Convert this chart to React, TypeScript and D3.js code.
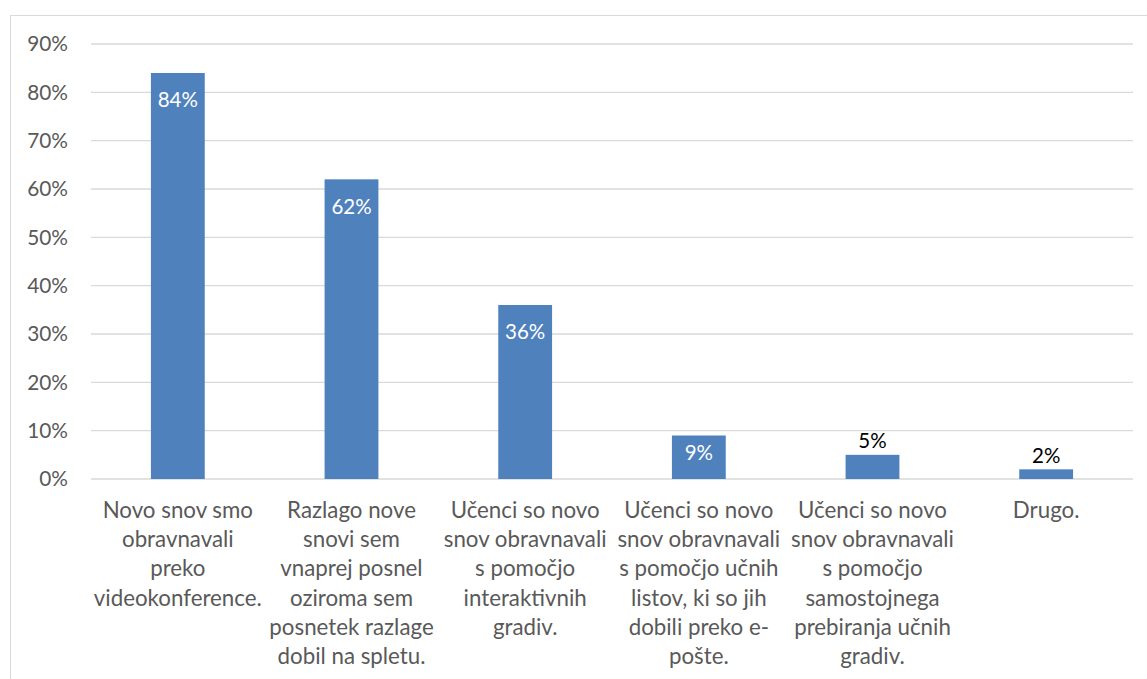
import React from "react";
import * as d3 from "d3";

// Survey responses: how new material was taught
const categories: string[][] = [
  ["Novo snov smo", "obravnavali", "preko", "videokonference."],
  ["Razlago nove", "snovi sem", "vnaprej posnel", "oziroma sem", "posnetek razlage", "dobil na spletu."],
  ["Učenci so novo", "snov obravnavali", "s pomočjo", "interaktivnih", "gradiv."],
  ["Učenci so novo", "snov obravnavali", "s pomočjo učnih", "listov, ki so jih", "dobili preko e-", "pošte."],
  ["Učenci so novo", "snov obravnavali", "s pomočjo", "samostojnega", "prebiranja učnih", "gradiv."],
  ["Drugo."],
];
const values: number[] = [0.84, 0.62, 0.36, 0.09, 0.05, 0.02];
const yTicks: number[] = [0, 0.1, 0.2, 0.3, 0.4, 0.5, 0.6, 0.7, 0.8, 0.9];

const W = 1147;
const H = 679;
const plot = { left: 91, right: 1133, top: 44, bottom: 479 };
const font = "Lato, 'Open Sans', sans-serif";

export default function App() {
  const keys = categories.map((_, i) => String(i));
  const x = d3.scaleBand<string>().domain(keys).range([plot.left, plot.right]).paddingInner(0.69).paddingOuter(0.345);
  const y = d3.scaleLinear().domain([0, 0.9]).range([plot.bottom, plot.top]);
  const fmt = d3.format(".0%");
  const step = x.step();

  return (
    <svg width={W} height={H} style={{ position: "absolute", left: 0, top: 0, background: "#fff" }}>
      <rect x={10.5} y={15.5} width={W + 20} height={H + 20} fill="none" stroke="#d9d9d9" strokeWidth={1} />
      {yTicks.map((t) => (
        <g key={t}>
          <line x1={plot.left} x2={plot.right} y1={y(t)} y2={y(t)} stroke="#d9d9d9" strokeWidth={1.3} />
          <text x={68} y={y(t)} dy="0.35em" textAnchor="end" fontFamily={font} fontSize={20.8} fill="#595959">
            {fmt(t)}
          </text>
        </g>
      ))}
      {values.map((v, i) => {
        const bx = x(String(i))!;
        const cx = bx + x.bandwidth() / 2;
        const barH = y(0) - y(v);
        const inside = v >= 0.08;
        const ly = inside ? y(v) + Math.min(27, barH * 0.4) : y(v) - 14;
        return (
          <g key={i}>
            <rect x={bx} y={y(v)} width={x.bandwidth()} height={barH} fill="#4f81bd" />
            <text
              x={cx}
              y={ly}
              dy="0.35em"
              textAnchor="middle"
              fontFamily={font}
              fontSize={20.5}
              fill={inside ? "#ffffff" : "#000000"}
            >
              {fmt(v)}
            </text>
          </g>
        );
      })}
      {categories.map((lines, i) => {
        const cx = plot.left + step * i + step / 2;
        return (
          <text key={i} textAnchor="middle" fontFamily={font} fontSize={22.3} fill="#595959">
            {lines.map((l, j) => (
              <tspan key={j} x={cx} y={510 + j * 29.3} dy="0.35em">
                {l}
              </tspan>
            ))}
          </text>
        );
      })}
    </svg>
  );
}
